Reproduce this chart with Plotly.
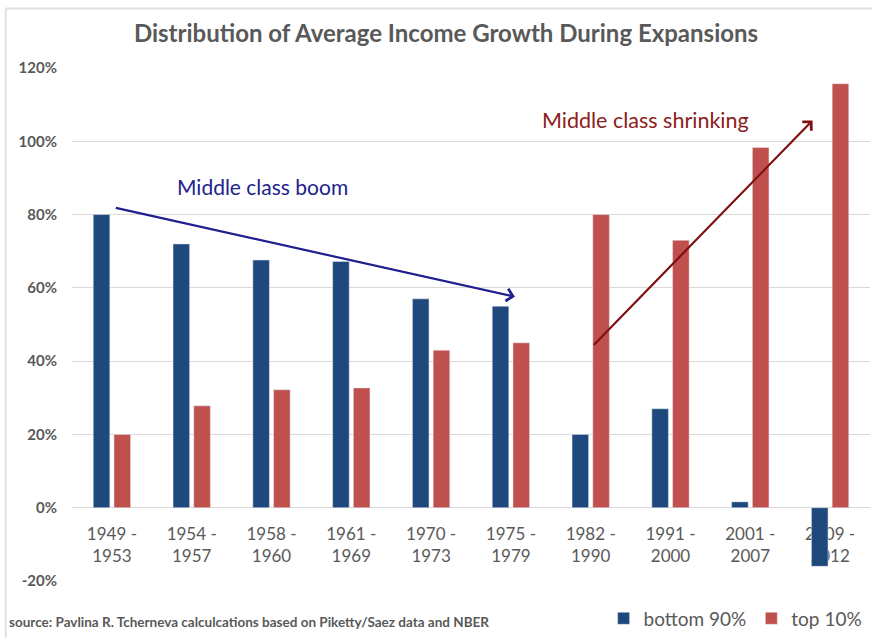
import plotly.graph_objects as go

# Expansion periods and average income growth (%) for each income group
periods = ["1949 -<br>1953", "1954 -<br>1957", "1958 -<br>1960", "1961 -<br>1969",
           "1970 -<br>1973", "1975 -<br>1979", "1982 -<br>1990", "1991 -<br>2000",
           "2001 -<br>2007", "2009 -<br>2012"]
bottom_90 = [80, 72, 67.6, 67.2, 57, 55, 20, 27, 1.6, -16]
top_10 = [20, 27.8, 32.2, 32.7, 43, 45, 80, 73, 98.3, 115.7]
y_ticks = [-20, 0, 20, 40, 60, 80, 100, 120]
y_tick_labels = ["-20%", "0%", "20%", "40%", "60%", "80%", "100%", "120%"]

BLUE = "#1F497D"
RED = "#C0504D"
GREY_TEXT = "#595959"
FONT = "Lato"

fig = go.Figure()
fig.add_trace(go.Bar(x=periods, y=bottom_90, name="bottom 90%", marker_color=BLUE))
fig.add_trace(go.Bar(x=periods, y=top_10, name="top 10%", marker_color=RED))

# y position of the zero line as a fraction of the plot height
zero_pos = (0 - y_ticks[0]) / (y_ticks[-1] - y_ticks[0])

fig.update_layout(
    width=872, height=639,
    margin=dict(l=72, r=2, t=68, b=53),
    paper_bgcolor="white", plot_bgcolor="white",
    barmode="group", bargap=0.48, bargroupgap=0.2,
    font=dict(family=FONT, color=GREY_TEXT),
    title=dict(text="<b>Distribution of Average Income Growth During Expansions</b>",
               x=0.4687, xref="paper", xanchor="center", y=0.948, yanchor="middle",
               font=dict(size=24, color=GREY_TEXT, family=FONT)),
    showlegend=True,
    legend=dict(orientation="h", x=0.997, xanchor="right", y=-0.073, yanchor="middle",
                font=dict(size=19, color=GREY_TEXT, family=FONT),
                itemwidth=30, traceorder="normal", bgcolor="rgba(0,0,0,0)"),
)

fig.update_yaxes(range=[y_ticks[0], y_ticks[-1]], tickmode="array",
                 tickvals=y_ticks, ticktext=["<b>%s</b>" % t for t in y_tick_labels],
                 showgrid=True, gridcolor="#D9D9D9", gridwidth=1,
                 zeroline=True, zerolinecolor="#D9D9D9", zerolinewidth=1,
                 showline=False, ticks="", ticklabelstandoff=14,
                 tickfont=dict(size=15, color=GREY_TEXT, family=FONT))
fig.update_xaxes(anchor="free", position=zero_pos, showline=False, showgrid=False,
                 ticks="", layer="below traces", ticklabelstandoff=14,
                 tickfont=dict(size=17, color=GREY_TEXT, family=FONT))

# Trend arrows and their captions
fig.add_annotation(x=5.05, y=57.6, ax=0.03, ay=81.9, xref="x", yref="y",
                   axref="x", ayref="y", text="", showarrow=True,
                   arrowhead=4, arrowsize=1.1, arrowwidth=2.2, arrowcolor="#1F1F8F")
fig.add_annotation(x=1.89, y=87.6, xref="x", yref="y", text="Middle class boom",
                   showarrow=False, font=dict(size=21, color="#22228C", family=FONT))
fig.add_annotation(x=8.78, y=105.7, ax=6.02, ay=44, xref="x", yref="y",
                   axref="x", ayref="y", text="", showarrow=True,
                   arrowhead=4, arrowsize=1.1, arrowwidth=2.2, arrowcolor="#7F1010")
fig.add_annotation(x=6.69, y=105.7, xref="x", yref="y", text="Middle class shrinking",
                   showarrow=False, font=dict(size=21.5, color="#8B2020", family=FONT))

# Source note
fig.add_annotation(x=-0.081, y=-0.079, xref="paper", yref="paper", xanchor="left",
                   yanchor="middle", showarrow=False,
                   text="<b>source: Pavlina R. Tcherneva calculcations based on Piketty/Saez data and NBER</b>",
                   font=dict(size=13.5, color=GREY_TEXT, family=FONT))

# Thin frame around the chart
fig.add_shape(type="line", xref="paper", yref="paper", x0=-0.083, x1=1.01, y0=1.116, y1=1.116,
              line=dict(color="#E0E0E0", width=2))
fig.add_shape(type="line", xref="paper", yref="paper", x0=-0.083, x1=-0.083, y0=-0.11, y1=1.116,
              line=dict(color="#E0E0E0", width=2))

fig.write_html("out.html")
